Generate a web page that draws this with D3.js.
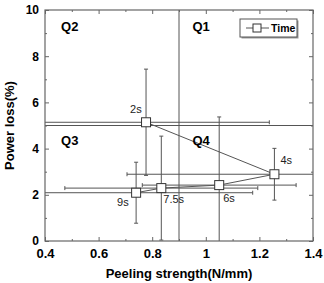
<!DOCTYPE html>
<html>
<head>
<meta charset="utf-8">
<script src="https://cdn.jsdelivr.net/npm/d3@7"></script>
<style>
  body { margin: 0; background: #fff; }
  text { font-family: "Liberation Sans", Arial, sans-serif; }
</style>
</head>
<body>
<div class="chart"></div>
<script>
var width = 324,
    height = 283;

var margin = {top: 10, right: 11, bottom: 42, left: 45};

// data
var timeLabels = ["2s", "4s", "6s", "7.5s", "9s"];
var strength = [0.777, 1.256, 1.05, 0.834, 0.74];
var strengthErr = [0.46, 0.55, 0.287, 0.36, 0.435];
var powerLoss = [5.14, 2.89, 2.42, 2.29, 2.09];
var powerLossErr = [2.3, 1.12, 2.95, 2.25, 1.32];

var xTicks = [0.4, 0.6, 0.8, 1.0, 1.2, 1.4];
var yTicks = [0, 2, 4, 6, 8, 10];
var quadX = 0.9, quadY = 5.0;
var quadLabels = [
  {name: "Q2", x: 0.46, y: 9.1},
  {name: "Q1", x: 0.95, y: 9.1},
  {name: "Q3", x: 0.46, y: 4.15},
  {name: "Q4", x: 0.95, y: 4.15}
];
// label offsets for the points (in px)
var labelPos = [[-16, -9], [6, -10], [4, 17], [2, 15], [-19, 13]];

var points = timeLabels.map(function(t, i) {
  return {t: t, x: strength[i], xe: strengthErr[i], y: powerLoss[i], ye: powerLossErr[i]};
});

var x = d3.scaleLinear().domain([0.4, 1.4]).range([margin.left, width - margin.right]);
var y = d3.scaleLinear().domain([0, 10]).range([height - margin.bottom, margin.top]);

var svg = d3.select(".chart").append("svg")
            .attr("width", width)
            .attr("height", height);

svg.append("clipPath").attr("id", "clip")
   .append("rect")
   .attr("x", x(0.4)).attr("y", y(10))
   .attr("width", x(1.4) - x(0.4))
   .attr("height", y(0) - y(10));

var lineColor = "#555";
var plot = svg.append("g").attr("clip-path", "url(#clip)");

// quadrant lines
plot.append("line")
    .attr("x1", x(quadX)).attr("x2", x(quadX))
    .attr("y1", y(0)).attr("y2", y(10))
    .style("stroke", lineColor).style("stroke-width", 1);
plot.append("line")
    .attr("x1", x(0.4)).attr("x2", x(1.4))
    .attr("y1", y(quadY)).attr("y2", y(quadY))
    .style("stroke", lineColor).style("stroke-width", 1);

// error bars
var cap = 2;
var eb = plot.selectAll(".err").data(points).enter().append("g").attr("class", "err")
    .style("stroke", lineColor).style("stroke-width", 1);
eb.append("line")
  .attr("x1", d => x(d.x - d.xe)).attr("x2", d => x(d.x + d.xe))
  .attr("y1", d => y(d.y)).attr("y2", d => y(d.y));
eb.append("line")
  .attr("x1", d => x(d.x)).attr("x2", d => x(d.x))
  .attr("y1", d => y(d.y - d.ye)).attr("y2", d => y(d.y + d.ye));
// caps
eb.append("line")
  .attr("x1", d => x(d.x - d.xe)).attr("x2", d => x(d.x - d.xe))
  .attr("y1", d => y(d.y) - cap).attr("y2", d => y(d.y) + cap);
eb.append("line")
  .attr("x1", d => x(d.x + d.xe)).attr("x2", d => x(d.x + d.xe))
  .attr("y1", d => y(d.y) - cap).attr("y2", d => y(d.y) + cap);
eb.append("line")
  .attr("x1", d => x(d.x) - cap).attr("x2", d => x(d.x) + cap)
  .attr("y1", d => y(d.y + d.ye)).attr("y2", d => y(d.y + d.ye));
eb.append("line")
  .attr("x1", d => x(d.x) - cap).attr("x2", d => x(d.x) + cap)
  .attr("y1", d => y(d.y - d.ye)).attr("y2", d => y(d.y - d.ye));

// connecting line
var line = d3.line().x(d => x(d.x)).y(d => y(d.y));
plot.append("path")
    .datum(points)
    .attr("d", line)
    .style("fill", "none")
    .style("stroke", lineColor)
    .style("stroke-width", 1);

// markers
var sq = 9;
plot.selectAll(".pt").data(points).enter().append("rect")
    .attr("class", "pt")
    .attr("x", d => x(d.x) - sq / 2)
    .attr("y", d => y(d.y) - sq / 2)
    .attr("width", sq).attr("height", sq)
    .style("fill", "#fff")
    .style("stroke", "#333")
    .style("stroke-width", 1);

// point labels
svg.selectAll(".plabel").data(points).enter().append("text")
   .attr("x", (d, i) => x(d.x) + labelPos[i][0])
   .attr("y", (d, i) => y(d.y) + labelPos[i][1])
   .style("font-size", "11px")
   .style("fill", "#222")
   .text(d => d.t);

// quadrant labels
svg.selectAll(".qlabel").data(quadLabels).enter().append("text")
   .attr("x", d => x(d.x))
   .attr("y", d => y(d.y))
   .style("font-size", "13px")
   .style("font-weight", "bold")
   .text(d => d.name);

// frame
svg.append("rect")
   .attr("x", x(0.4)).attr("y", y(10))
   .attr("width", x(1.4) - x(0.4))
   .attr("height", y(0) - y(10))
   .style("fill", "none")
   .style("stroke", "#666")
   .style("stroke-width", 1.2);

// axes, ticks inward
var xAxis = d3.axisBottom(x).tickValues(xTicks).tickSize(-4)
              .tickFormat(d => d === 1 ? "1" : d3.format(".1f")(d));
var xMinor = d3.axisBottom(x).tickValues(d3.range(0.5, 1.4, 0.2)).tickSize(-2).tickFormat("");
var yAxis = d3.axisLeft(y).tickValues(yTicks).tickSize(-4);
var yMinor = d3.axisLeft(y).tickValues([1, 3, 5, 7, 9]).tickSize(-2).tickFormat("");

function styleAxis(g) {
  g.select(".domain").remove();
  g.selectAll(".tick line").style("stroke", "#666");
  g.selectAll("text")
   .style("font-family", "'Liberation Sans', Arial, sans-serif")
   .style("font-weight", "bold")
   .style("fill", "#000");
}

svg.append("g").attr("transform", "translate(0," + y(0) + ")")
   .call(xAxis).call(styleAxis)
   .selectAll("text").style("font-size", "13px").attr("dy", "1.05em");
svg.append("g").attr("transform", "translate(0," + y(0) + ")").call(xMinor).call(styleAxis);
svg.append("g").attr("transform", "translate(0," + y(10) + ")")
   .call(d3.axisTop(x).tickValues(xTicks).tickSize(-4).tickFormat("")).call(styleAxis);
svg.append("g").attr("transform", "translate(0," + y(10) + ")")
   .call(d3.axisTop(x).tickValues(d3.range(0.5, 1.4, 0.2)).tickSize(-2).tickFormat("")).call(styleAxis);

svg.append("g").attr("transform", "translate(" + x(0.4) + ",0)")
   .call(yAxis).call(styleAxis)
   .selectAll("text").style("font-size", "12px").attr("x", -6);
svg.append("g").attr("transform", "translate(" + x(0.4) + ",0)").call(yMinor).call(styleAxis);
svg.append("g").attr("transform", "translate(" + x(1.4) + ",0)")
   .call(d3.axisRight(y).tickValues(yTicks).tickSize(-4).tickFormat("")).call(styleAxis);
svg.append("g").attr("transform", "translate(" + x(1.4) + ",0)")
   .call(d3.axisRight(y).tickValues([1, 3, 5, 7, 9]).tickSize(-2).tickFormat("")).call(styleAxis);

// axis titles
svg.append("text")
   .attr("x", (x(0.4) + x(1.4)) / 2)
   .attr("y", 278)
   .attr("text-anchor", "middle")
   .style("font-size", "13px")
   .style("font-weight", "bold")
   .text("Peeling strength(N/mm)");

svg.append("text")
   .attr("transform", "translate(14," + (y(0) + y(10)) / 2 + ") rotate(-90)")
   .attr("text-anchor", "middle")
   .style("font-size", "13px")
   .style("font-weight", "bold")
   .text("Power loss(%)");

// legend
var legend = svg.append("g").attr("transform", "translate(240,19)");
legend.append("rect")
      .attr("x", 1.5).attr("y", 1.5).attr("width", 57).attr("height", 18)
      .style("fill", "#999");
legend.append("rect")
      .attr("width", 57).attr("height", 18)
      .style("fill", "#fff").style("stroke", "#555").style("stroke-width", 1);
legend.append("line")
      .attr("x1", 6).attr("x2", 29).attr("y1", 9).attr("y2", 9)
      .style("stroke", lineColor);
legend.append("rect")
      .attr("x", 13).attr("y", 5).attr("width", 8).attr("height", 8)
      .style("fill", "#fff").style("stroke", "#333");
legend.append("text")
      .attr("x", 31).attr("y", 13)
      .style("font-size", "10.5px")
      .style("font-weight", "bold")
      .text("Time");
</script>
</body>
</html>
